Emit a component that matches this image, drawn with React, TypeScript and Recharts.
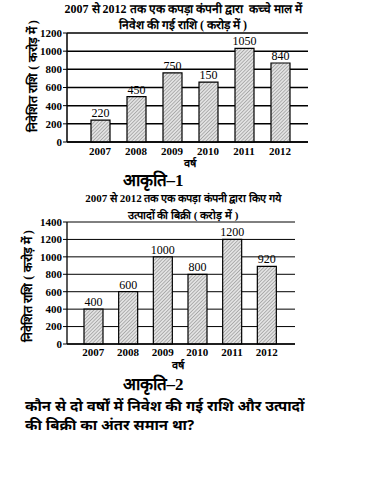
import React from 'react';
import { BarChart, Bar, XAxis, YAxis, CartesianGrid, LabelList } from 'recharts';

const years = ['2007', '2008', '2009', '2010', '2011', '2012'];
// bar heights as drawn in the figure
const investBars = [240, 500, 760, 660, 1030, 870];
// labels printed above the bars
const investLabels = ['220', '450', '750', '150', '1050', '840'];
const investTicks = [0, 200, 400, 600, 800, 1000, 1200];

const salesBars = [400, 600, 1000, 800, 1200, 890];
const salesLabels = ['400', '600', '1000', '800', '1200', '920'];
const salesTicks = [0, 200, 400, 600, 800, 1000, 1200, 1400];

const serif = '"Liberation Serif", "Times New Roman", serif';

const investData = years.map((y, i) => ({ year: y, value: investBars[i], label: investLabels[i] }));
const salesData = years.map((y, i) => ({ year: y, value: salesBars[i], label: salesLabels[i] }));

function Hatch({ id }: { id: string }) {
  return (
    <defs>
      <pattern id={id} width="2.5" height="2.5" patternUnits="userSpaceOnUse" patternTransform="rotate(45)">
        <rect width="2.5" height="2.5" fill="#e2e2e2" />
        <line x1="0" y1="0" x2="0" y2="2.5" stroke="#808080" strokeWidth="1" />
      </pattern>
    </defs>
  );
}

const tickStyle = { fontFamily: serif, fontWeight: 700, fontSize: 11, fill: '#000' };

function abs(left: number, top: number, extra: React.CSSProperties = {}): React.CSSProperties {
  return { position: 'absolute', left, top, fontFamily: serif, color: '#000', whiteSpace: 'nowrap', ...extra };
}

export default function App() {
  return (
    <div style={{ position: 'absolute', left: 0, top: 0, width: 366, height: 477, background: '#fff', overflow: 'hidden' }}>
      {/* figure 1 */}
      <div style={abs(0, 1, { width: 366, textAlign: 'center', fontSize: 12, fontWeight: 700, lineHeight: '16px' })}>
        2007 से 2012 तक एक कपड़ा कंपनी द्वारा&nbsp; कच्चे माल में<br />निवेश की गई राशि ( करोड़ में )
      </div>
      <div style={abs(32, 76, { fontSize: 12.5, fontWeight: 700, transform: 'translate(-50%, -50%) rotate(-90deg)' })}>
        निवेशित राशि ( करोड़ में )
      </div>
      <div style={{ position: 'absolute', left: 0, top: 0 }}>
        <BarChart width={366} height={170} data={investData} margin={{ top: 33, right: 58, left: 27, bottom: 0 }}>
          <Hatch id="hatch1" />
          <CartesianGrid vertical={false} horizontalValues={investTicks} syncWithTicks stroke="#000" strokeWidth={1.5} />
          <XAxis
            dataKey="year"
            padding={{ left: 15, right: 10 }}
            height={28}
            tickLine={false}
            tickSize={0}
            tickMargin={5}
            axisLine={{ stroke: '#000', strokeWidth: 1.5 }}
            tick={tickStyle}
            interval={0}
          />
          <YAxis
            width={40}
            domain={[0, 1200]}
            ticks={investTicks}
            interval={0}
            tickSize={4}
            tickMargin={1}
            tickLine={{ stroke: '#000' }}
            axisLine={{ stroke: '#000', strokeWidth: 1.5 }}
            tick={tickStyle}
          />
          <Bar dataKey="value" barSize={19} fill="url(#hatch1)" stroke="#000" strokeWidth={1.2} isAnimationActive={false}>
            <LabelList dataKey="label" position="top" offset={3} style={{ fontFamily: serif, fontSize: 12, fill: '#000' }} />
          </Bar>
        </BarChart>
      </div>
      <div style={abs(190, 155, { fontSize: 11, fontWeight: 700, transform: 'translateX(-50%)' })}>वर्ष</div>

      <div style={abs(153, 168, { fontSize: 17, fontWeight: 700, transform: 'translateX(-50%)' })}>आकृति–1</div>

      {/* figure 2 */}
      <div style={abs(0, 190, { width: 366, textAlign: 'center', fontSize: 11, fontWeight: 700, lineHeight: '17px' })}>
        2007 से 2012 तक एक कपड़ा कंपनी द्वारा किए गये<br />उत्पादों की बिक्री ( करोड़ में )
      </div>
      <div style={abs(27, 286, { fontSize: 12.5, fontWeight: 700, transform: 'translate(-50%, -50%) rotate(-90deg)' })}>
        निवेशित राशि ( करोड़ में )
      </div>
      <div style={{ position: 'absolute', left: 0, top: 170 }}>
        <BarChart width={366} height={200} data={salesData} margin={{ top: 52, right: 71, left: 27, bottom: 0 }}>
          <Hatch id="hatch2" />
          <CartesianGrid vertical={false} horizontalValues={salesTicks} syncWithTicks stroke="#000" strokeWidth={1} />
          <XAxis
            dataKey="year"
            padding={{ left: 9, right: 11 }}
            height={26}
            tickLine={false}
            tickSize={0}
            tickMargin={4}
            axisLine={{ stroke: '#000', strokeWidth: 1.3 }}
            tick={tickStyle}
            interval={0}
          />
          <YAxis
            width={40}
            domain={[0, 1400]}
            ticks={salesTicks}
            interval={0}
            tickSize={4}
            tickMargin={1}
            tickLine={{ stroke: '#000' }}
            axisLine={{ stroke: '#000', strokeWidth: 1.3 }}
            tick={tickStyle}
          />
          <Bar dataKey="value" barSize={19} fill="url(#hatch2)" stroke="#000" strokeWidth={1.2} isAnimationActive={false}>
            <LabelList dataKey="label" position="top" offset={3} style={{ fontFamily: serif, fontSize: 12, fill: '#000' }} />
          </Bar>
        </BarChart>
      </div>
      <div style={abs(178, 357, { fontSize: 11, fontWeight: 700, transform: 'translateX(-50%)' })}>वर्ष</div>

      <div style={abs(153, 372, { fontSize: 17, fontWeight: 700, transform: 'translateX(-50%)' })}>आकृति–2</div>

      <div style={abs(25, 396, { fontSize: 15, fontWeight: 700, lineHeight: '19px', fontFamily: '"Noto Sans", sans-serif' })}>
        कौन से दो वर्षों में निवेश की गई राशि और उत्पादों<br />की बिक्री का अंतर समान था?
      </div>
    </div>
  );
}
